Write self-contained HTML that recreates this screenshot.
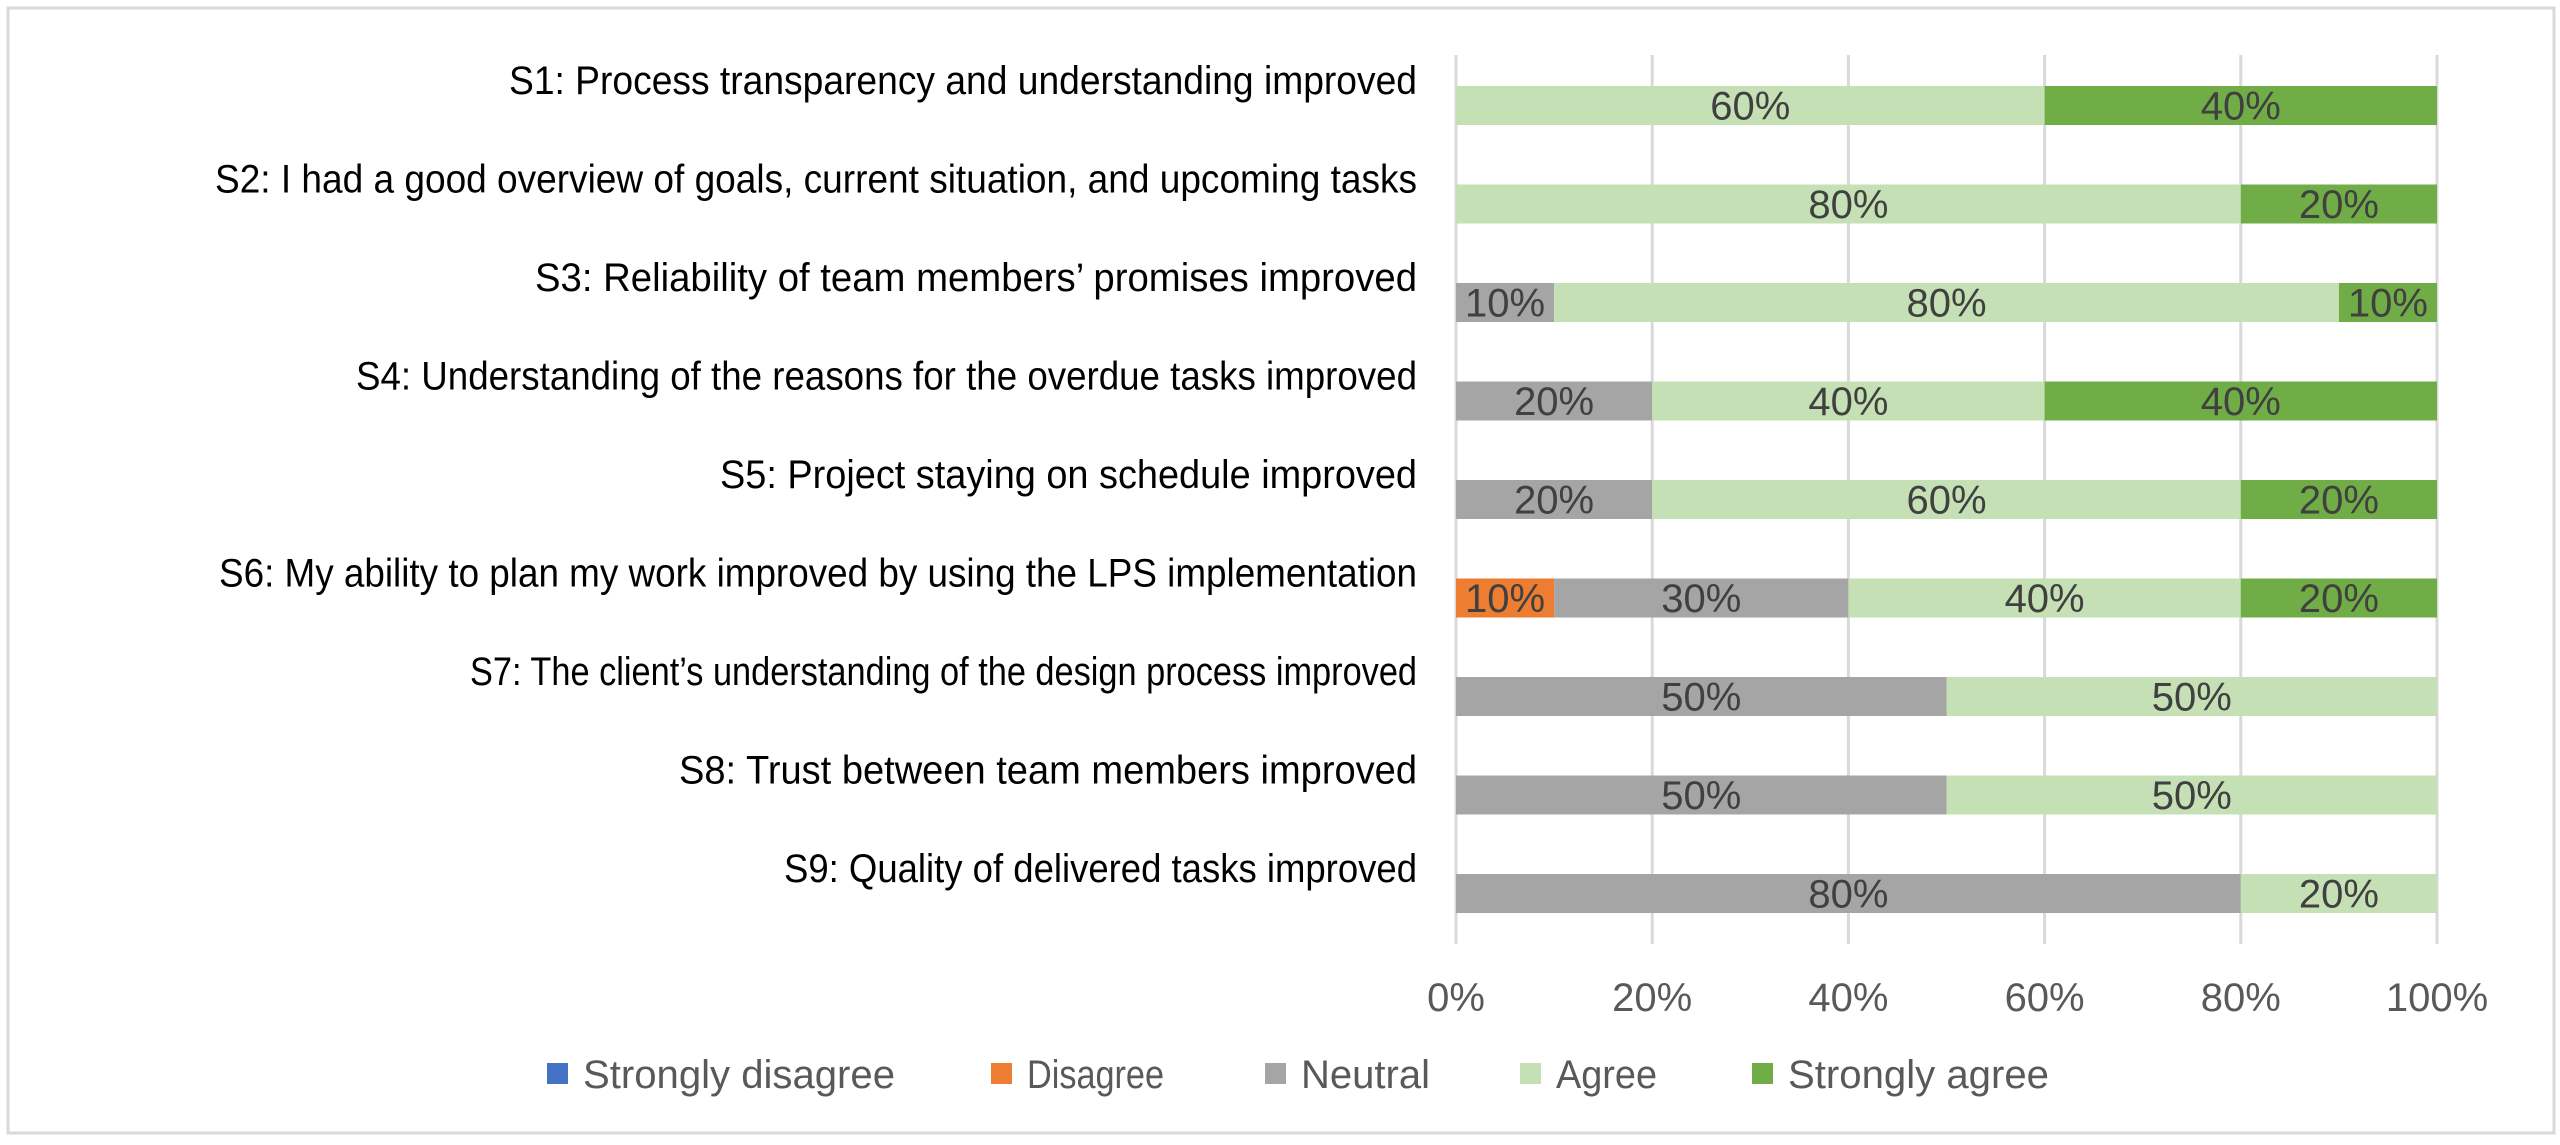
<!DOCTYPE html>
<html><head><meta charset="utf-8"><style>
html,body{margin:0;padding:0;background:#fff;}
svg{display:block;font-family:"Liberation Sans Narrow","Liberation Sans",sans-serif;}
</style></head><body>
<svg id="chart" width="2560" height="1145" viewBox="0 0 2560 1145" xmlns="http://www.w3.org/2000/svg">
<rect x="8" y="8" width="2546" height="1125" fill="#fff" stroke="#d9d9d9" stroke-width="3"/>
<g id="grid"></g><g id="bars"></g><g id="labels"></g><g id="ticks"></g><g id="legend"></g>
</svg>
<script>
const categories=["S1: Process transparency and understanding improved","S2: I had a good overview of goals, current situation, and upcoming tasks","S3: Reliability of team members\u2019 promises improved","S4: Understanding of the reasons for the overdue tasks improved","S5: Project staying on schedule improved","S6: My ability to plan my work improved by using the LPS implementation","S7: The client\u2019s understanding of the design process improved","S8: Trust between team members improved","S9: Quality of delivered tasks improved"];
const seriesNames=["Strongly disagree","Disagree","Neutral","Agree","Strongly agree"];
const stronglyDisagree=[0,0,0,0,0,0,0,0,0];
const disagree=[0,0,0,0,0,10,0,0,0];
const neutral=[0,0,10,20,20,30,50,50,80];
const agree=[60,80,80,40,60,40,50,50,20];
const stronglyAgree=[40,20,10,40,20,20,0,0,0];
const tickValues=[0,20,40,60,80,100];
const tickLabels=["0%","20%","40%","60%","80%","100%"];
const labelWidths=[908,1202,882,1061,697,1198,947,738,633];
const legendWidths=[312,137,129,101,261];
const legX=[547,991,1265,1520,1752];
const colors=["#4472C4","#ED7D31","#A5A5A5","#C5E0B4","#70AD47"];
const series=[stronglyDisagree,disagree,neutral,agree,stronglyAgree];
const NS="http://www.w3.org/2000/svg";
const X0=1456,X1=2437,Y0=86,STEP=98.5,BH=39;
const x=v=>X0+(X1-X0)*v/100;
const y=i=>Y0+STEP*i;
function mk(tag,attrs,parent,text){const e=document.createElementNS(NS,tag);for(const k in attrs)e.setAttribute(k,attrs[k]);if(text!==undefined)e.textContent=text;parent.appendChild(e);return e;}
const grid=document.getElementById('grid'),bars=document.getElementById('bars'),labels=document.getElementById('labels'),ticks=document.getElementById('ticks'),legend=document.getElementById('legend');
tickValues.forEach((t,i)=>{
  const l=mk('line',{x1:x(t),x2:x(t),y1:55,y2:944,stroke:'#d9d9d9','stroke-width':3},grid);
  
  
  const tx=mk('text',{x:x(t),y:1011,'text-anchor':'middle','font-size':40,fill:'#595959'},ticks,tickLabels[i]);
  
  
});
categories.forEach((c,i)=>{
  const t=mk('text',{x:1417,y:y(i)+8,'text-anchor':'end','font-size':40,fill:'#000',textLength:labelWidths[i],lengthAdjust:'spacingAndGlyphs'},labels,c);
  
  
  let acc=0;
  series.forEach((s,j)=>{
    const v=s[i];if(!v)return;
    const r=mk('rect',{x:x(acc),y:y(i),width:x(acc+v)-x(acc),height:BH,fill:colors[j]},bars);
    
    
    const vt=mk('text',{x:(x(acc)+x(acc+v))/2,y:y(i)+BH/2+14,'text-anchor':'middle','font-size':40,fill:'#404040'},bars,v+'%');
    
    
    acc+=v;
  });
});
seriesNames.forEach((n,j)=>{
  const g=mk('g',{},legend);
  
  
  mk('rect',{x:legX[j],y:1063,width:21,height:21,fill:colors[j]},g);
  mk('text',{x:legX[j]+36,y:1088,'font-size':40,fill:'#595959',textLength:legendWidths[j],lengthAdjust:'spacingAndGlyphs'},g,n);
});
</script>
</body></html>
